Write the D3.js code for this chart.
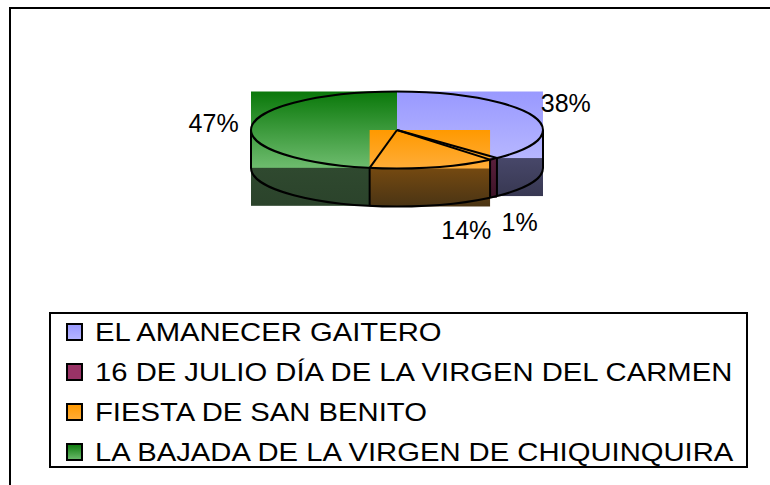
<!DOCTYPE html>
<html>
<head>
<meta charset="utf-8">
<script src="https://cdn.jsdelivr.net/npm/d3@7"></script>
<style>
  body { margin: 0; background: #fff; }
  svg { display: block; font-family: "Liberation Sans", Arial, sans-serif; }
</style>
</head>
<body>
<svg id="chart" width="770" height="485"></svg>
<script>
// chart data
var categories = [
  'EL AMANECER GAITERO',
  '16 DE JULIO DÍA DE LA VIRGEN DEL CARMEN',
  'FIESTA DE SAN BENITO',
  'LA BAJADA DE LA VIRGEN DE CHIQUINQUIRA'
];
var values = [38, 1, 14, 47];
var pctLabels = ['38%', '1%', '14%', '47%'];

// fills: top face gradient and side face gradient per slice
var topColors = [['#9999ff', '#b6b6ff'], ['#993366', '#993366'], ['#ff9900', '#ffad38'], ['#0a780a', '#6ebc6e']];
var sideColors = [['#52527a', '#383852'], ['#5a1f3c', '#3d1428'], ['#7e4e10', '#4a3414'], ['#334f33', '#2b432b']];

var svg = d3.select('#chart');

// outer frame (runs off the right and bottom)
svg.append('rect')
  .attr('x', 10).attr('y', 8)
  .attr('width', 800).attr('height', 500)
  .attr('fill', 'none').attr('stroke', '#000').attr('stroke-width', 2);

var cx = 397, cy = 130, rx = 146, ry = 38.5, depth = 38;

var pie = d3.pie().sort(null).value(function(d) { return d; });
var arcs = pie(values);
var total = d3.sum(values);

function pt(a, dy) {
  return [cx + rx * Math.sin(a), cy - ry * Math.cos(a) + (dy || 0)];
}

function bbox(points) {
  var xs = points.map(function(p) { return p[0]; });
  var ys = points.map(function(p) { return p[1]; });
  return { x: d3.min(xs), y: d3.min(ys), w: d3.max(xs) - d3.min(xs), h: d3.max(ys) - d3.min(ys) };
}

function sample(a0, a1, dy) {
  var out = [];
  var n = 60;
  for (var i = 0; i <= n; i++) out.push(pt(a0 + (a1 - a0) * i / n, dy));
  return out;
}

var defs = svg.append('defs');
function grad(id, c) {
  var g = defs.append('linearGradient').attr('id', id)
    .attr('x1', 0).attr('y1', 0).attr('x2', 0).attr('y2', 1);
  g.append('stop').attr('offset', '0%').attr('stop-color', c[0]);
  g.append('stop').attr('offset', '100%').attr('stop-color', c[1]);
}
arcs.forEach(function(d, i) {
  grad('top' + i, topColors[i]);
  grad('side' + i, sideColors[i]);
});

// side faces (front half only), drawn as their bounding boxes
var g = svg.append('g');
arcs.forEach(function(d, i) {
  var a0 = Math.max(d.startAngle, Math.PI / 2);
  var a1 = Math.min(d.endAngle, Math.PI * 1.5);
  if (a1 <= a0) return;
  var b = bbox(sample(a0, a1, 0).concat(sample(a0, a1, depth)));
  g.append('rect')
    .attr('x', b.x).attr('y', b.y).attr('width', b.w).attr('height', b.h)
    .attr('fill', 'url(#side' + i + ')');
});

// top faces, painted back to front (tiny slices first)
function midY(d) { return pt((d.startAngle + d.endAngle) / 2)[1]; }
var order = arcs.slice().sort(function(a, b) {
  var ka = a.value < 0.05 * total ? -1 : midY(a);
  var kb = b.value < 0.05 * total ? -1 : midY(b);
  return ka - kb;
});
order.forEach(function(d) {
  var b = bbox(sample(d.startAngle, d.endAngle, 0).concat([[cx, cy]]));
  g.append('rect')
    .attr('x', b.x).attr('y', b.y).attr('width', b.w).attr('height', b.h)
    .attr('fill', 'url(#top' + d.index + ')');
});

// outlines
var o = svg.append('g').attr('fill', 'none').attr('stroke', '#000').attr('stroke-width', 2);
o.append('ellipse').attr('cx', cx).attr('cy', cy).attr('rx', rx).attr('ry', ry);
o.append('path')
  .attr('d', 'M' + (cx - rx) + ',' + (cy + depth) + 'A' + rx + ',' + ry + ' 0 0 0 ' + (cx + rx) + ',' + (cy + depth));
[Math.PI / 2, Math.PI * 1.5].forEach(function(a) {
  var p = pt(a);
  o.append('line').attr('x1', p[0]).attr('y1', p[1]).attr('x2', p[0]).attr('y2', p[1] + depth);
});
arcs.forEach(function(d) {
  var a = d.endAngle;
  if (Math.cos(a) >= 0) return;
  var p = pt(a);
  o.append('line').attr('x1', cx).attr('y1', cy).attr('x2', p[0]).attr('y2', p[1]);
  o.append('line').attr('x1', p[0]).attr('y1', p[1]).attr('x2', p[0]).attr('y2', p[1] + depth);
});

// percentage labels, placed off the rim at each slice's mid angle
svg.append('g').selectAll('text')
  .data(arcs)
  .enter()
  .append('text')
  .each(function(d) {
    var a = (d.startAngle + d.endAngle) / 2;
    var p = pt(a);
    var right = Math.sin(a) > 0;
    var front = Math.cos(a) < 0;
    d3.select(this)
      .attr('x', right ? p[0] + 8 : p[0] - 13)
      .attr('y', front ? p[1] + depth + 34 : p[1] + 9 - 34.5 * Math.cos(a))
      .attr('text-anchor', right ? 'start' : 'end');
  })
  .attr('font-size', 25)
  .attr('fill', '#000')
  .text(function(d) { return pctLabels[d.index]; });

// legend
var legend = svg.append('g');
legend.append('rect')
  .attr('x', 50).attr('y', 313).attr('width', 697).attr('height', 154)
  .attr('fill', '#fff').attr('stroke', '#000').attr('stroke-width', 2);

var rowY = d3.scalePoint().domain(d3.range(categories.length)).range([332, 452]);

var rows = legend.selectAll('g.row')
  .data(categories)
  .enter()
  .append('g')
  .attr('class', 'row')
  .attr('transform', function(d, i) { return 'translate(0,' + rowY(i) + ')'; });

rows.append('rect')
  .attr('x', 67).attr('y', -8).attr('width', 15).attr('height', 16)
  .attr('fill', function(d, i) { return 'url(#top' + i + ')'; })
  .attr('stroke', '#000').attr('stroke-width', 2);

rows.append('text')
  .attr('transform', 'translate(95,9) scale(1.17,1)')
  .attr('font-size', 25)
  .attr('fill', '#000')
  .text(function(d) { return d; });
</script>
</body>
</html>
